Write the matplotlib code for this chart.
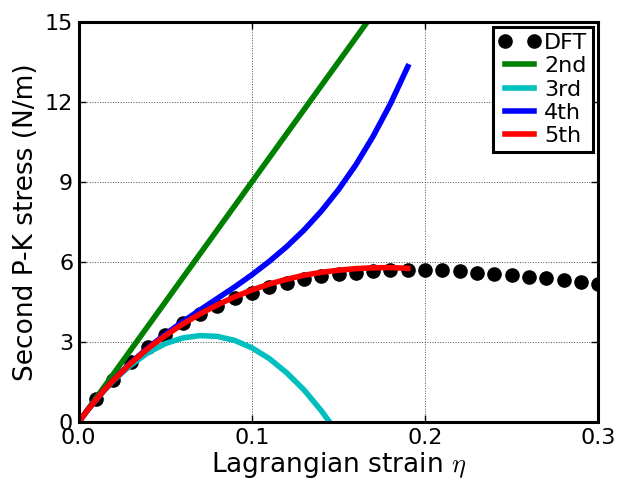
import numpy as np
import matplotlib
matplotlib.use('Agg')
import matplotlib.pyplot as plt

plt.rcParams['mathtext.fontset'] = 'cm'

# DFT data points
dft_x = [0.01, 0.02, 0.03, 0.04, 0.05, 0.06, 0.07, 0.08, 0.09, 0.10,
         0.11, 0.12, 0.13, 0.14, 0.15, 0.16, 0.17, 0.18, 0.19, 0.20,
         0.21, 0.22, 0.23, 0.24, 0.25, 0.26, 0.27, 0.28, 0.29, 0.30]
dft_y = [0.86, 1.57, 2.25, 2.80, 3.26, 3.70, 4.05, 4.35, 4.63, 4.85,
         5.07, 5.20, 5.35, 5.46, 5.54, 5.60, 5.65, 5.68, 5.70, 5.70,
         5.69, 5.65, 5.60, 5.55, 5.50, 5.45, 5.38, 5.31, 5.24, 5.16]

# fitted curves
fit_x = [0.0, 0.005, 0.01, 0.015, 0.02, 0.03, 0.04, 0.05, 0.06, 0.07, 0.08, 0.09, 0.10,
         0.11, 0.12, 0.13, 0.14, 0.15, 0.16, 0.17, 0.18, 0.19]
y_2nd = [0.0, 0.45, 0.9, 1.35, 1.8, 2.7, 3.6, 4.5, 5.4, 6.3, 7.2, 8.1, 9.0,
         9.9, 10.8, 11.7, 12.6, 13.5, 14.4, 15.3, 16.2, 17.1]
y_3rd = [0.0, 0.43, 0.83, 1.20, 1.55, 2.13, 2.60, 2.94, 3.15, 3.24, 3.21, 3.06, 2.78,
         2.38, 1.85, 1.21, 0.43, -0.46, -1.5, -2.6, -3.8, -5.1]
y_4th = [0.0, 0.44, 0.84, 1.22, 1.57, 2.22, 2.78, 3.29, 3.76, 4.20, 4.63, 5.06, 5.52,
         6.02, 6.57, 7.19, 7.90, 8.71, 9.64, 10.71, 11.93, 13.32]
y_5th = [0.0, 0.44, 0.84, 1.22, 1.57, 2.20, 2.76, 3.24, 3.67, 4.05, 4.39, 4.69, 4.95,
         5.17, 5.35, 5.50, 5.61, 5.69, 5.75, 5.78, 5.79, 5.76]

fig = plt.figure(figsize=(6.2, 4.84), dpi=100)
ax = fig.add_axes([0.127, 0.128, 0.838, 0.827])

ax.plot(dft_x, dft_y, 'o', color='k', markersize=9.5, label='DFT')
ax.plot(fit_x, y_2nd, color=(0, 0.5, 0), lw=4, label='2nd')
ax.plot(fit_x, y_3rd, color=(0, 0.75, 0.75), lw=4, label='3rd')
ax.plot(fit_x, y_4th, color=(0, 0, 1), lw=4, label='4th')
ax.plot(fit_x, y_5th, color=(1, 0, 0), lw=4, label='5th')

ax.set_xlim(0, 0.3)
ax.set_ylim(0, 15)
ax.set_xticks([0.0, 0.1, 0.2, 0.3])
ax.set_yticks([0, 3, 6, 9, 12, 15])
ax.set_xticklabels(['0.0', '0.1', '0.2', '0.3'])
ax.tick_params(direction='in', length=5, width=1, labelsize=16, top=True, right=True, pad=4)
ax.grid(True, color='0.3', linestyle=':', linewidth=0.7)
for s in ax.spines.values():
    s.set_linewidth(2.2)

ax.set_xlabel(r'Lagrangian strain $\eta$', fontsize=19, labelpad=2)
ax.set_ylabel('Second P-K stress (N/m)', fontsize=19, labelpad=4)

leg = ax.legend(loc='upper right', fontsize=16, numpoints=2, handlelength=1.9,
                handletextpad=0.15, borderpad=0.25, labelspacing=0.15,
                borderaxespad=0.25, fancybox=False, framealpha=1)
leg.get_frame().set_edgecolor('k')
leg.get_frame().set_linewidth(2.2)

fig.savefig('out.png', dpi=100, facecolor='white')
